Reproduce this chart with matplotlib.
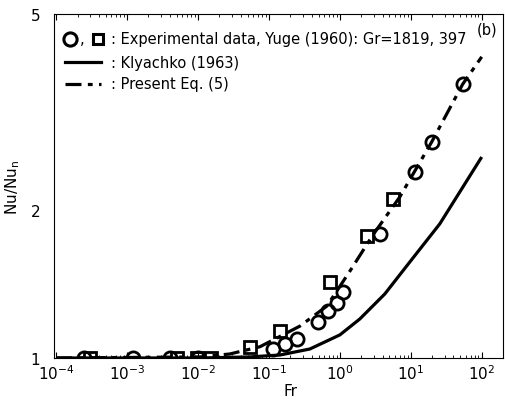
import matplotlib
matplotlib.use("Agg")
import matplotlib.pyplot as plt
from matplotlib.ticker import FixedLocator, NullLocator, LogLocator, NullFormatter, LogFormatterSciNotation

# experimental data, Yuge (1960)
fr_circ = [2.48e-4, 1.22e-3, 4.04e-3, 1.0e-2, 0.114, 0.168, 0.248, 0.49, 0.678, 0.908, 1.10,
           3.66, 11.4, 19.8, 54.0]
nu_circ = [1.0, 1.0, 1.0, 1.0, 1.043, 1.068, 1.093, 1.184, 1.246, 1.294, 1.362,
           1.786, 2.386, 2.75, 3.60]
fr_sq = [3.0e-4, 5.06e-3, 9.6e-3, 1.52e-2, 0.054, 0.143, 0.72, 2.40, 5.57]
nu_sq = [1.0, 1.0, 1.0, 1.0, 1.053, 1.135, 1.427, 1.770, 2.105]

# Klyachko (1963)
fr_kl = [1e-4, 0.0107, 0.054, 0.143, 0.378, 1.0, 1.91, 4.3, 9.7, 25.6, 100]
nu_kl = [1.0, 1.0, 1.005, 1.014, 1.043, 1.114, 1.200, 1.349, 1.567, 1.872, 2.56]

# present Eq. (5)
fr_eq = [1e-4, 0.0107, 0.0282, 0.0747, 0.274, 0.656, 1.38, 2.92, 7.0, 19.8, 54.0, 100]
nu_eq = [1.0, 1.005, 1.019, 1.054, 1.161, 1.275, 1.50, 1.777, 2.124, 2.75, 3.60, 4.09]

x_ticks = [1e-4, 1e-3, 1e-2, 1e-1, 1e0, 1e1, 1e2]
y_ticks = [1, 2, 5]
y_ticklabels = ["1", "2", "5"]

fig = plt.figure(figsize=(5.05, 4.02), dpi=100)
ax = fig.add_axes([0.107, 0.107, 0.889, 0.856])

ax.plot(fr_kl, nu_kl, color="black", lw=2.3, solid_capstyle="butt")
ax.plot(fr_eq, nu_eq, color="black", lw=2.3, linestyle=(0, (5, 2, 1.5, 2)))
ax.plot(fr_circ, nu_circ, "o", ms=9.5, mfc="none", mec="black", mew=2.0)
ax.plot(fr_sq, nu_sq, "s", ms=8, mfc="none", mec="black", mew=2.0)

ax.set_xscale("log")
ax.set_yscale("log")
ax.set_xlim(10 ** -4.03, 10 ** 2.3)
ax.set_ylim(1, 5)

ax.xaxis.set_major_locator(FixedLocator(x_ticks))
ax.xaxis.set_major_formatter(LogFormatterSciNotation())
ax.xaxis.set_minor_locator(LogLocator(base=10, subs=range(2, 10), numticks=20))
ax.xaxis.set_minor_formatter(NullFormatter())
ax.tick_params(axis="x", which="both", direction="in", top=True, labelsize=11, pad=4)
ax.tick_params(axis="x", which="major", length=4)
ax.tick_params(axis="x", which="minor", length=2.5)

ax.yaxis.set_major_locator(FixedLocator(y_ticks))
ax.yaxis.set_minor_locator(NullLocator())
ax.set_yticklabels(y_ticklabels)
ax.tick_params(axis="y", length=0, labelsize=11, pad=10)

ax.set_xlabel("Fr", fontsize=11)
ax.xaxis.set_label_coords(0.527, -0.074)
ax.set_ylabel(r"Nu/Nu$_\mathregular{n}$", fontsize=11, labelpad=6)

for s in ax.spines.values():
    s.set_linewidth(0.8)

# legend drawn by hand
fs = 10.5
ax.plot([0.036], [0.927], "o", ms=9.5, mfc="none", mec="black", mew=2.2, transform=ax.transAxes, clip_on=False)
ax.text(0.058, 0.927, ",", transform=ax.transAxes, fontsize=fs, va="center")
ax.plot([0.097], [0.927], "s", ms=7.5, mfc="none", mec="black", mew=2.2, transform=ax.transAxes, clip_on=False)
ax.text(0.128, 0.927, ": Experimental data, Yuge (1960): Gr=1819, 397",
        transform=ax.transAxes, fontsize=fs, va="center")
ax.plot([0.024, 0.104], [0.860, 0.860], color="black", lw=2.3, transform=ax.transAxes)
ax.text(0.128, 0.860, ": Klyachko (1963)", transform=ax.transAxes, fontsize=fs, va="center")
ax.plot([0.024, 0.104], [0.797, 0.797], color="black", lw=2.3,
        linestyle=(0, (5, 2, 1.5, 2)), transform=ax.transAxes)
ax.text(0.128, 0.797, ": Present Eq. (5)", transform=ax.transAxes, fontsize=fs, va="center")
ax.text(0.988, 0.955, "(b)", transform=ax.transAxes, fontsize=fs, ha="right", va="center")

fig.savefig("out.png", dpi=100)
